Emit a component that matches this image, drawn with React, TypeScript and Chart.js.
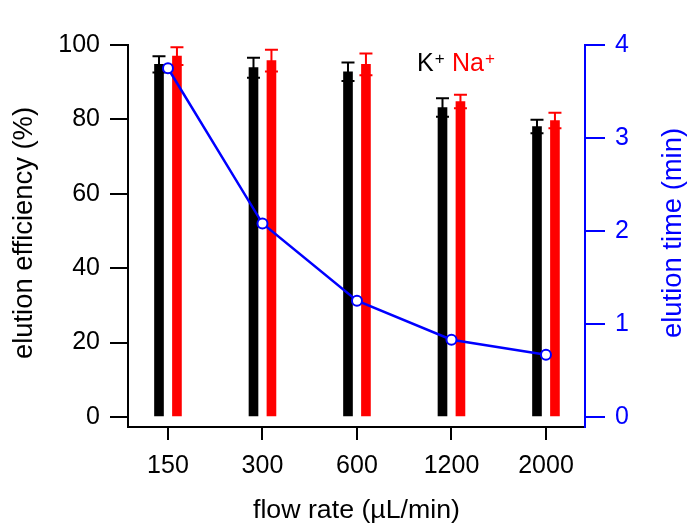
import React, { useEffect, useRef } from "react";
import { Chart, registerables } from "chart.js";

Chart.register(...registerables);

const flowRates = ["150", "300", "600", "1200", "2000"];
const kEfficiency = [94.8, 93.9, 92.8, 83.2, 78.1];
const kError = [2.2, 2.7, 2.5, 2.5, 1.8];
const naEfficiency = [97.0, 95.8, 94.8, 84.8, 79.7];
const naError = [2.4, 2.9, 2.9, 1.8, 2.1];
const elutionTime = [3.75, 2.08, 1.25, 0.83, 0.67];
const leftTicks = [0, 20, 40, 60, 80, 100];
const rightTicks = [0, 1, 2, 3, 4];

const xTitle = "flow rate (µL/min)";
const leftTitle = "elution efficiency (%)";
const rightTitle = "elution time (min)";

const FONT = "'Liberation Sans', Arial, Helvetica, sans-serif";
const BLUE = "#0000ff";
const RED = "#ff0000";
const BAR_SHIFT = 0.095;

const errorsByDataset: Record<number, number[]> = { 0: kError, 1: naError };

const errorBarPlugin = {
  id: "errorBars",
  afterDatasetDraw(chart: any, args: any) {
    const errs = errorsByDataset[args.index];
    if (!errs) return;
    const ds = chart.data.datasets[args.index];
    const meta = args.meta;
    const yScale = chart.scales[meta.yAxisID];
    const ctx = chart.ctx;
    ctx.save();
    ctx.strokeStyle = ds.backgroundColor;
    ctx.lineWidth = 2;
    meta.data.forEach((bar: any, i: number) => {
      const v = ds.data[i].y;
      const e = errs[i];
      const x = bar.x;
      const yHi = yScale.getPixelForValue(v + e);
      const yLo = yScale.getPixelForValue(v - e);
      ctx.beginPath();
      ctx.moveTo(x, yLo);
      ctx.lineTo(x, yHi);
      ctx.moveTo(x - 6.5, yHi);
      ctx.lineTo(x + 6.5, yHi);
      ctx.moveTo(x - 6.5, yLo);
      ctx.lineTo(x + 6.5, yLo);
      ctx.stroke();
    });
    ctx.restore();
  },
};

function drawTitle(
  ctx: CanvasRenderingContext2D,
  text: string,
  cx: number,
  cy: number,
  size: number,
  targetLen: number,
  rotate: boolean,
  color: string
) {
  ctx.save();
  ctx.font = `${size}px ${FONT}`;
  ctx.fillStyle = color;
  ctx.textAlign = "center";
  ctx.textBaseline = "alphabetic";
  const w = ctx.measureText(text).width;
  ctx.translate(cx, cy);
  if (rotate) ctx.rotate(-Math.PI / 2);
  ctx.scale(targetLen / w, 1);
  ctx.fillText(text, 0, 0);
  ctx.restore();
}

const titlesPlugin = {
  id: "axisTitles",
  afterDraw(chart: any) {
    const ctx = chart.ctx;
    drawTitle(ctx, xTitle, 356.5, 518, 26, 207, false, "#000000");
    drawTitle(ctx, leftTitle, 32, 233, 27, 252, true, "#000000");
    drawTitle(ctx, rightTitle, 681, 233, 27, 210, true, BLUE);
  },
};

const legendPlugin = {
  id: "ionLegend",
  afterDraw(chart: any) {
    const ctx = chart.ctx;
    ctx.save();
    ctx.textBaseline = "alphabetic";
    ctx.textAlign = "left";
    let x = 417;
    const base = 71;
    ctx.font = `25px ${FONT}`;
    ctx.fillStyle = "#000000";
    ctx.fillText("K", x, base);
    x += ctx.measureText("K").width + 1;
    ctx.font = `17px ${FONT}`;
    ctx.fillText("+", x, base - 7);
    x = 452;
    ctx.font = `25px ${FONT}`;
    ctx.fillStyle = RED;
    ctx.fillText("Na", x, base);
    x += ctx.measureText("Na").width + 1;
    ctx.font = `17px ${FONT}`;
    ctx.fillText("+", x, base - 7);
    ctx.restore();
  },
};

export default function App() {
  const canvasRef = useRef<HTMLCanvasElement | null>(null);

  useEffect(() => {
    if (!canvasRef.current) return;
    const chart = new Chart(canvasRef.current, {
      type: "bar",
      data: {
        datasets: [
          {
            type: "bar",
            label: "K+",
            data: kEfficiency.map((v, i) => ({ x: i - BAR_SHIFT, y: v })),
            backgroundColor: "#000000",
            barThickness: 9,
            grouped: false,
            yAxisID: "y",
            xAxisID: "x",
            order: 2,
          } as any,
          {
            type: "bar",
            label: "Na+",
            data: naEfficiency.map((v, i) => ({ x: i + BAR_SHIFT, y: v })),
            backgroundColor: RED,
            barThickness: 9,
            grouped: false,
            yAxisID: "y",
            xAxisID: "x",
            order: 1,
          } as any,
          {
            type: "line",
            label: "elution time",
            data: elutionTime.map((v, i) => ({ x: i, y: v })),
            borderColor: BLUE,
            borderWidth: 2.5,
            pointRadius: 5,
            pointBorderWidth: 2,
            pointBackgroundColor: "#ffffff",
            pointBorderColor: BLUE,
            tension: 0,
            yAxisID: "y1",
            xAxisID: "x",
            order: 0,
          } as any,
        ],
      },
      options: {
        animation: false,
        responsive: false,
        layout: { padding: { top: 45, left: 0, right: 0, bottom: 0 } },
        plugins: { legend: { display: false }, tooltip: { enabled: false } },
        scales: {
          x: {
            type: "linear",
            min: -0.423,
            max: 4.413,
            offset: false,
            afterBuildTicks: (axis: any) => {
              axis.ticks = flowRates.map((_, i) => ({ value: i }));
            },
            afterFit: (s: any) => {
              s.height = 104;
            },
            ticks: {
              callback: (_v: any, i: number) => flowRates[i],
              font: { family: FONT, size: 25 },
              color: "#000000",
              padding: 11,
              autoSkip: false,
              maxRotation: 0,
            },
            grid: {
              drawOnChartArea: false,
              drawTicks: true,
              tickLength: 13,
              color: "#000000",
              lineWidth: 2,
              offset: false,
            },
            border: { display: true, color: "#000000", width: 2 },
            title: { display: false },
          },
          y: {
            type: "linear",
            position: "left",
            min: -2.7,
            max: 100,
            afterBuildTicks: (axis: any) => {
              axis.ticks = leftTicks.map((v) => ({ value: v }));
            },
            afterFit: (s: any) => {
              s.width = 128;
            },
            ticks: {
              font: { family: FONT, size: 25 },
              color: "#000000",
              padding: 10,
            },
            grid: {
              drawOnChartArea: false,
              drawTicks: true,
              tickLength: 18,
              color: "#000000",
              lineWidth: 2,
            },
            border: { display: true, color: "#000000", width: 2 },
            title: { display: false },
          },
          y1: {
            type: "linear",
            position: "right",
            min: -0.108,
            max: 4,
            afterBuildTicks: (axis: any) => {
              axis.ticks = rightTicks.map((v) => ({ value: v }));
            },
            afterFit: (s: any) => {
              s.width = 103;
            },
            ticks: {
              font: { family: FONT, size: 25 },
              color: BLUE,
              padding: 10,
            },
            grid: {
              drawOnChartArea: false,
              drawTicks: true,
              tickLength: 20,
              color: BLUE,
              lineWidth: 2,
            },
            border: { display: true, color: BLUE, width: 2 },
            title: { display: false },
          },
        },
      } as any,
      plugins: [errorBarPlugin, titlesPlugin, legendPlugin],
    });
    return () => chart.destroy();
  }, []);

  return (
    <div style={{ position: "fixed", left: 0, top: 0, width: 688, height: 531, background: "#ffffff" }}>
      <canvas ref={canvasRef} width={688} height={531} style={{ display: "block" }} />
    </div>
  );
}
